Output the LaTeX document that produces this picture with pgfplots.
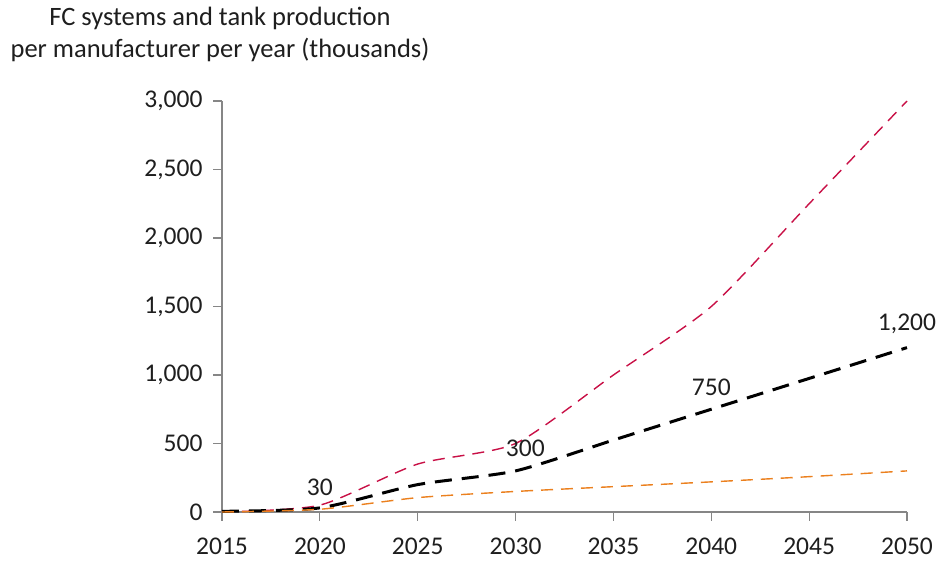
\documentclass[border=0pt]{standalone}
\usepackage{pgfplots}
\pgfplotsset{compat=1.18}
\usepackage{fontspec}
\setmainfont{Carlito}
\definecolor{crim}{RGB}{200,16,70}
\definecolor{orng}{RGB}{235,128,30}
\definecolor{axgray}{RGB}{134,134,134}
\definecolor{txt}{RGB}{30,30,30}
\begin{document}
\begin{tikzpicture}
\begin{axis}[
  scale only axis,
  width=685pt, height=411pt,
  xmin=2015, xmax=2050, ymin=0, ymax=3000,
  xtick={2015,2020,...,2050},
  ytick={0,500,...,3000},
  xticklabels={},
  yticklabels={},
  scaled y ticks=false,
  axis line style={draw=none},
  major tick length=0pt,
  clip=false,
]
\draw[axgray, line width=1.2pt] (axis cs:2015,3000) -- (axis cs:2015,0) -- (axis cs:2050,0);
\pgfplotsinvokeforeach{2015,2020,2025,2030,2035,2040,2045,2050}{
  \draw[axgray, line width=1.2pt] (axis cs:#1,0) -- ++(0pt,-9pt);
  \node[text=txt, font=\fontsize{25.5}{28}\selectfont, anchor=north] at ([yshift=-22pt]axis cs:#1,0) {#1};
}
\node[text=txt, font=\fontsize{25.5}{28}\selectfont, anchor=east] at ([xshift=-16pt]axis cs:2015,0) {0};
\node[text=txt, font=\fontsize{25.5}{28}\selectfont, anchor=east] at ([xshift=-16pt]axis cs:2015,500) {500};
\node[text=txt, font=\fontsize{25.5}{28}\selectfont, anchor=east] at ([xshift=-16pt]axis cs:2015,1000) {1,000};
\node[text=txt, font=\fontsize{25.5}{28}\selectfont, anchor=east] at ([xshift=-16pt]axis cs:2015,1500) {1,500};
\node[text=txt, font=\fontsize{25.5}{28}\selectfont, anchor=east] at ([xshift=-16pt]axis cs:2015,2000) {2,000};
\node[text=txt, font=\fontsize{25.5}{28}\selectfont, anchor=east] at ([xshift=-16pt]axis cs:2015,2500) {2,500};
\node[text=txt, font=\fontsize{25.5}{28}\selectfont, anchor=east] at ([xshift=-16pt]axis cs:2015,3000) {3,000};
\pgfplotsinvokeforeach{0,500,1000,1500,2000,2500,3000}{
  \draw[axgray, line width=1.2pt] (axis cs:2015,#1) -- ++(-9pt,0pt);
}
\addplot[crim, line width=1.4pt, dash pattern=on 12pt off 8pt, smooth, tension=0.4] coordinates {
 (2015,0) (2020,50) (2025,350) (2030,500) (2035,1000) (2040,1500) (2045,2250) (2050,3000)};
\addplot[black, line width=3pt, dash pattern=on 17pt off 10pt, smooth, tension=0.4] coordinates {
 (2015,5) (2020,30) (2025,200) (2030,300) (2035,525) (2040,750) (2045,975) (2050,1200)};
\addplot[orng, line width=1.4pt, dash pattern=on 12pt off 8pt, smooth, tension=0.4] coordinates {
 (2015,0) (2020,20) (2025,105) (2030,150) (2035,185) (2040,220) (2045,258) (2050,300)};
\node[text=txt, font=\fontsize{25.5}{28}\selectfont] at (axis cs:2020,182) {30};
\node[text=txt, font=\fontsize{25.5}{28}\selectfont] at (axis cs:2030.5,467) {300};
\node[text=txt, font=\fontsize{25.5}{28}\selectfont] at (axis cs:2040,912) {750};
\node[text=txt, font=\fontsize{25.5}{28}\selectfont] at (axis cs:2050,1372) {1,200};
\end{axis}
\node[text=txt, align=center, font=\fontsize{26.5}{32}\selectfont] at (-2pt,478pt) {FC systems and tank production\\per manufacturer per year (thousands)};
\path[use as bounding box] (-222pt,-53pt) rectangle (718pt,512pt);
\end{tikzpicture}
\end{document}
